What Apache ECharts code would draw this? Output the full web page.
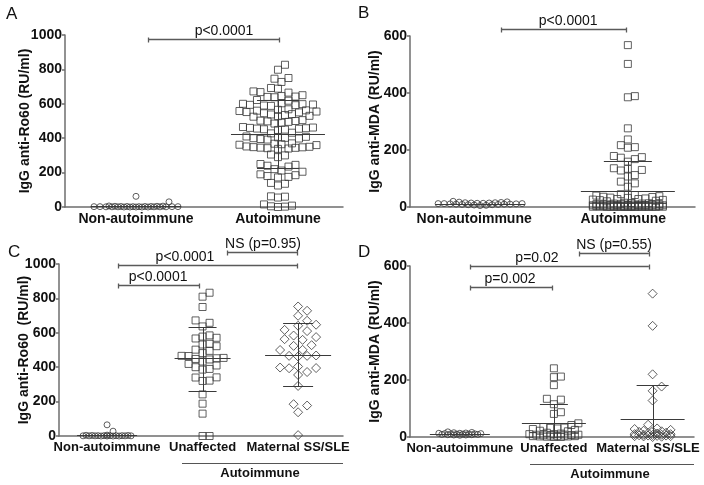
<!DOCTYPE html>
<html><head><meta charset="utf-8">
<script src="https://cdn.jsdelivr.net/npm/echarts@6/dist/echarts.min.js"></script>
<style>html,body{margin:0;padding:0;background:#fff}#c{width:704px;height:485px}</style>
</head><body><div id="c"></div>
<script>
// ---------------- data ----------------
const catsAB = ['Non-autoimmune', 'Autoimmune'];
const catsCD = ['Non-autoimmune', 'Unaffected', 'Maternal SS/SLE'];
const ticksRo60 = [0, 200, 400, 600, 800, 1000];
const ticksMDA = [0, 200, 400, 600];
const titleA = 'IgG anti-Ro60 (RU/ml)';
const titleB = 'IgG anti-MDA (RU/ml)';
const titleC = 'IgG anti-Ro60  (RU/ml)';
const titleD = 'IgG anti-MDA (RU/ml)';
const panelLetters = ['A', 'B', 'C', 'D'];
const groupLabel = 'Autoimmune';

const aNonAuto = [0,1,2,0,3,1,2,4,0,1,3,2,5,1,0,2,3,1,4,2,0,1,3,2,6,62,30];
const aAuto = [827,798,746,750,727,692,688,668,672,665,645,640,638,650,642,618,622,
  600,598,592,590,596,603,588,594,
  565,560,555,558,562,550,568,545,552,
  535,530,538,528,540,525,
  500,495,502,490,505,498,485,
  460,455,450,465,458,452,462,448,456,
  432,428,
  405,400,398,410,395,402,408,392,
  368,362,370,360,365,
  348,345,340,350,342,352,338,344,347,
  305,300,290,
  245,240,250,235,
  220,212,190,205,
  180,175,172,185,
  140,135,125,
  60,55,62,
  15,8,4,2,0];
const bNonAuto = [15,12,10,18,8,14,11,9,16,13,7,20,10,12,6,15,11,9,14,8,17,12,10,13,5];
const bAuto = [568,502,389,385,276,237,217,208,210,179,175,173,168,159,136,134,130,128,112,107,89,83,71,
  45,42,40,38,36,35,33,32,30,28,28,26,25,24,22,20,
  15,14,13,12,12,11,10,10,9,9,8,8,8,7,7,7,6,6,6,5,5,5,5,4,4,4,4,3,3,3,3,3,2,2,2,2,2,1,1,1,1,1,0,0,0,0,0,0,0,0];
const cNonAuto = [2,1,0,3,1,2,0,4,1,2,3,0,1,2,5,1,0,2,65,28];
const cUnaffected = [833,810,750,672,658,637,585,578,571,567,536,522,532,502,495,482,465,466,452,445,448,454,433,419,410,400,386,390,341,340,322,320,242,188,130,0,0];
const cMaternal = [753,728,699,670,647,641,617,610,584,575,563,559,528,524,501,500,468,466,462,466,395,404,394,398,372,355,291,177,185,138,5];
const dNonAuto = [12,10,8,15,9,11,7,14,10,13,6,9,12,16,8,11,10,18,7,13];
const dUnaffected = [241,212,210,182,134,131,115,87,81,48,42,35,33,32,30,28,25,22,20,15,12,10,10,8,8,7,6,5,5,4,3,3,2,2,1,0,0];
const dMaternal = [503,390,220,177,162,128,43,30,28,25,22,20,20,18,15,14,12,10,10,8,8,7,6,5,5,4,3,3,2,1,0];

// mean and SD bar ends per group
const aMean = [3, 425],  aUpper = [10, 620],  aLower = [0, 228];
const bMean = [11, 57],  bUpper = [15, 160],  bLower = [7, 0];
const cMean = [3, 455, 471], cUpper = [10, 635, 655], cLower = [0, 263, 290];
const dMean = [10, 48, 63],  dUpper = [13, 116, 182], dLower = [7, 0, 0];

// significance labels
const pTextA = ['p<0.0001'];
const pTextB = ['p<0.0001'];
const pTextC = ['p<0.0001', 'p<0.0001', 'NS (p=0.95)'];
const pTextD = ['p=0.002', 'p=0.02', 'NS (p=0.55)'];

// ---------------- layout / style ----------------
const FONT = '"Liberation Sans", Arial, Helvetica, sans-serif';
const AX = '#6e6e6e', INK = '#111', MK = '#383838';
const panels = [
  { grid:{left:65, top:35, width:278, height:172}, xMin:0.5, xMax:2.458, yMax:1000, ticks:ticksRo60,
    cats:catsAB, catFont:14, title:titleA, nameGap:33,
    groups:[{vals:aNonAuto, x:1, sym:'circle', size:6, half:44}, {vals:aAuto, x:2, sym:'rect', size:7, half:42}],
    stats:{mean:aMean, up:aUpper, lo:aLower, half:[[45,0],[47,21]]},
    br:{text:pTextA, pos:[[1.085, 2.007, 977, 1.62]]} },
  { grid:{left:410, top:36, width:285, height:171}, xMin:0.57, xMax:2.48, yMax:600, ticks:ticksMDA,
    cats:catsAB, catFont:14, title:titleB, nameGap:28,
    groups:[{vals:bNonAuto, x:1.04, sym:'circle', size:6, half:44}, {vals:bAuto, x:2.03, sym:'rect', size:7, half:38}],
    stats:{mean:bMean, up:bUpper, lo:bLower, half:[[45,0],[47,24]]},
    br:{text:pTextB, pos:[[1.18, 2.02, 624, 1.63]]} },
  { grid:{left:59, top:264, width:284, height:172}, xMin:0.497, xMax:3.47, yMax:1000, ticks:ticksRo60,
    cats:catsCD, catFont:13, title:titleC, nameGap:28,
    groups:[{vals:cNonAuto, x:1, sym:'circle', size:6, half:25}, {vals:cUnaffected, x:2, sym:'rect', size:7, half:24},
            {vals:cMaternal, x:3, sym:'diamond', size:9, half:22}],
    stats:{mean:cMean, up:cUpper, lo:cLower, half:[[30,0],[28,14],[33,15]]},
    br:{text:pTextC, pos:[[1.115,1.963,878,1.534],[1.115,2.99,994,1.816],[2.26,2.99,1070,2.633]]} },
  { grid:{left:410, top:266, width:284, height:171}, xMin:0.47, xMax:3.49, yMax:600, ticks:ticksMDA,
    cats:catsCD, catFont:13, title:titleD, nameGap:28,
    groups:[{vals:dNonAuto, x:1, sym:'circle', size:6, half:23}, {vals:dUnaffected, x:2, sym:'rect', size:7, half:26},
            {vals:dMaternal, x:3.05, sym:'diamond', size:9, half:22}],
    stats:{mean:dMean, up:dUpper, lo:dLower, half:[[30,0],[32,14],[32,16]]},
    br:{text:pTextD, pos:[[1.108,1.98,526,1.534],[1.108,3.01,600,1.82],[2.27,3.01,646,2.64]]} }
];

// Prism-like scatter-dot arrangement (deterministic beeswarm)
function swarm(values, center, size, maxHalf, pxX, pxY) {
  const idx = values.map((v, i) => i).sort((a, b) => values[a] - values[b]);
  const placed = [], out = new Array(values.length);
  const step = size * 0.5, n = Math.floor(maxHalf / step);
  for (const i of idx) {
    const y = values[i] * pxY;
    let best = 0, bestD = -1;
    for (let k = 0; k <= 2 * n; k++) {
      const m = Math.ceil(k / 2) * (k % 2 === 1 ? 1 : -1);
      const x = m * step;
      let minD = Infinity;
      for (const p of placed) { const d = Math.hypot(p.x - x, p.y - y); if (d < minD) minD = d; }
      if (minD >= size) { best = x; bestD = minD; break; }
      if (minD > bestD + 0.01) { bestD = minD; best = x; }
    }
    placed.push({x: best, y});
    out[i] = [center + best / pxX, values[i]];
  }
  return out;
}

const r5 = v => Math.round(v) + 0.5;
function statsRender(halfs) {
  return function (params, api) {
    const x = api.value(0), m = api.value(1), up = api.value(2), lo = api.value(3);
    const [hm, hs] = halfs[params.dataIndex];
    const pm = api.coord([x, m]), pu = api.coord([x, up]), pl = api.coord([x, Math.max(lo, 0)]);
    const style = {stroke: '#3a3a3a', lineWidth: 1, fill: null};
    const ch = [{type: 'line', shape: {x1: pm[0] - hm, y1: r5(pm[1]), x2: pm[0] + hm, y2: r5(pm[1])}, style}];
    if (hs > 0) {
      ch.push({type: 'line', shape: {x1: pu[0] - hs, y1: r5(pu[1]), x2: pu[0] + hs, y2: r5(pu[1])}, style});
      if (lo > 0) ch.push({type: 'line', shape: {x1: pl[0] - hs, y1: r5(pl[1]), x2: pl[0] + hs, y2: r5(pl[1])}, style});
      ch.push({type: 'line', shape: {x1: r5(pm[0]), y1: r5(pu[1]), x2: r5(pm[0]), y2: r5(pl[1])}, style});
    }
    return {type: 'group', children: ch};
  };
}
function bracketRender(texts) {
  return function (params, api) {
    const x1 = api.value(0), x2 = api.value(1), y = api.value(2), tx = api.value(3);
    const p1 = api.coord([x1, y]), p2 = api.coord([x2, y]), pt = api.coord([tx, y]);
    const yy = r5(p1[1]);
    const style = {stroke: '#5a5a5a', lineWidth: 1.3, fill: null};
    return {type: 'group', children: [
      {type: 'line', shape: {x1: p1[0], y1: yy, x2: p2[0], y2: yy}, style},
      {type: 'line', shape: {x1: r5(p1[0]), y1: yy - 2, x2: r5(p1[0]), y2: yy + 3}, style},
      {type: 'line', shape: {x1: r5(p2[0]), y1: yy - 2, x2: r5(p2[0]), y2: yy + 3}, style},
      {type: 'text', x: pt[0], y: yy - 1, style: {text: texts[params.dataIndex], fill: INK,
        font: '14px ' + FONT, align: 'center', verticalAlign: 'bottom', textAlign: 'center', textVerticalAlign: 'bottom'}}
    ]};
  };
}

const grid = [], xAxis = [], yAxis = [], series = [];
panels.forEach((P, i) => {
  grid.push(P.grid);
  const pxX = P.grid.width / (P.xMax - P.xMin), pxY = P.grid.height / P.yMax;
  xAxis.push({type: 'value', gridIndex: i, min: P.xMin, max: P.xMax,
    axisLine: {show: true, onZero: false, lineStyle: {color: AX, width: 1.5}},
    axisTick: {show: false}, splitLine: {show: false},
    axisLabel: {customValues: P.cats.map((c, k) => k + 1), formatter: v => P.cats[Math.round(v) - 1] || '',
      fontFamily: FONT, fontWeight: 'bold', fontSize: P.catFont, color: INK, margin: 5}});
  yAxis.push({type: 'value', gridIndex: i, min: 0, max: P.yMax, interval: 200,
    axisLine: {show: true, lineStyle: {color: AX, width: 1.5}},
    axisTick: {show: true, length: 3, customValues: P.ticks, lineStyle: {color: AX, width: 1.5}},
    splitLine: {show: false},
    axisLabel: {customValues: P.ticks, formatter: v => String(v),
      fontFamily: FONT, fontWeight: 'bold', fontSize: 14, color: INK, margin: 3},
    name: P.title, nameLocation: 'middle', nameGap: P.nameGap, nameMoveOverlap: false,
    nameTextStyle: {fontFamily: FONT, fontWeight: 'bold', fontSize: 14, color: INK}});
  P.groups.forEach(G => {
    series.push({type: 'scatter', xAxisIndex: i, yAxisIndex: i, symbol: G.sym, symbolSize: G.size,
      silent: true, z: 3,
      itemStyle: {color: 'rgba(255,255,255,0)', borderColor: MK, borderWidth: 1},
      data: swarm(G.vals, G.x, G.size, G.half, pxX, pxY)});
  });
  series.push({type: 'custom', xAxisIndex: i, yAxisIndex: i, silent: true, clip: false, z: 4,
    renderItem: statsRender(P.stats.half),
    data: P.stats.mean.map((m, k) => [P.groups[k].x, m, P.stats.up[k], P.stats.lo[k]])});
  series.push({type: 'custom', xAxisIndex: i, yAxisIndex: i, silent: true, clip: false, z: 5,
    renderItem: bracketRender(P.br.text), data: P.br.pos});
});

const letterPos = [[6, 6], [358, 5], [8, 244], [358, 244]];
const graphic = letterPos.map((p, k) => ({type: 'text', x: p[0], y: p[1],
  style: {text: panelLetters[k], font: '17px ' + FONT, fill: INK}}));
[[182, 343, 463, 260], [530, 694, 464, 610]].forEach(g => {
  graphic.push({type: 'line', shape: {x1: g[0], y1: g[2] + 0.5, x2: g[1], y2: g[2] + 0.5}, style: {stroke: '#555', lineWidth: 1}});
  graphic.push({type: 'text', x: g[3], y: g[2] + 10, style: {text: groupLabel, font: 'bold 13px ' + FONT, fill: INK,
    align: 'center', verticalAlign: 'middle', textAlign: 'center', textVerticalAlign: 'middle'}});
});

const chart = echarts.init(document.getElementById('c'), null, {renderer: 'canvas'});
chart.setOption({animation: false, backgroundColor: '#fff', grid, xAxis, yAxis, series, graphic});
</script></body></html>
